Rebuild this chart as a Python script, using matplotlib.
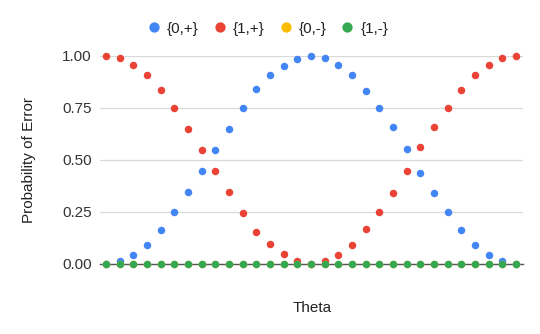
import matplotlib.pyplot as plt
from matplotlib.lines import Line2D

# theta sampled in 31 steps, 0 .. 360 degrees
theta = [i * 12 for i in range(31)]

p0_plus = [0.0, 0.014, 0.045, 0.091, 0.163, 0.248, 0.347, 0.448, 0.549, 0.650,
           0.749, 0.842, 0.906, 0.952, 0.986, 1.0, 0.989, 0.955, 0.906, 0.830,
           0.749, 0.657, 0.552, 0.435, 0.339, 0.248, 0.162, 0.093, 0.043, 0.014, 0.0]
p1_plus = [1.0, 0.987, 0.954, 0.907, 0.835, 0.747, 0.648, 0.549, 0.448, 0.347,
           0.247, 0.155, 0.094, 0.048, 0.016, 0.0, 0.014, 0.043, 0.093, 0.170,
           0.250, 0.342, 0.445, 0.562, 0.659, 0.749, 0.835, 0.909, 0.955, 0.987, 0.998]
p0_minus = [0.0] * 31
p1_minus = [0.0] * 31

labels = ["{0,+}", "{1,+}", "{0,-}", "{1,-}"]
colors = ["#4285F4", "#EA4335", "#FBBC04", "#34A853"]
series = [p0_plus, p1_plus, p0_minus, p1_minus]

plt.rcParams['font.family'] = ['Liberation Sans', 'DejaVu Sans']

fig = plt.figure(figsize=(5.4, 3.34), dpi=100)
ax = fig.add_axes([0.185, 0.2096, 0.7835, 0.6236])

for vals, col in zip(series, colors):
    ax.plot(theta, vals, linestyle="none", marker="o", markersize=5.4,
            color=col, markeredgewidth=0, clip_on=False, zorder=3)

ax.set_xlim(-5.3, 366.1)
ax.set_ylim(0, 1)
ax.set_yticks([0, 0.25, 0.5, 0.75, 1.0])
ax.set_yticklabels(["0.00", "0.25", "0.50", "0.75", "1.00"], fontsize=11, color="#333333")
ax.set_xticks([])
ax.tick_params(axis="y", length=0, pad=6)
ax.grid(axis="y", color="#d9d9d9", linewidth=0.9)
ax.set_axisbelow(True)
for side in ["top", "right", "left"]:
    ax.spines[side].set_visible(False)
ax.spines["bottom"].set_color("#555555")
ax.spines["bottom"].set_linewidth(1.0)
ax.spines["bottom"].set_zorder(2)

ax.set_ylabel("Probability of Error", fontsize=11, color="#222222")
ax.yaxis.set_label_coords(-0.15, 0.5)
ax.set_xlabel("Theta", fontsize=11, color="#222222")
ax.xaxis.set_label_coords(0.501, -0.18)

handles = [Line2D([], [], linestyle="none", marker="o", markersize=7.4,
                  color=c, markeredgewidth=0) for c in colors]
fig.legend(handles, labels, loc="center", bbox_to_anchor=(0.495, 0.914), ncol=4,
           frameon=False, fontsize=11, handlelength=1.0, handletextpad=0.35,
           columnspacing=0.88, labelcolor="#222222")

fig.savefig("out.png", dpi=100)
